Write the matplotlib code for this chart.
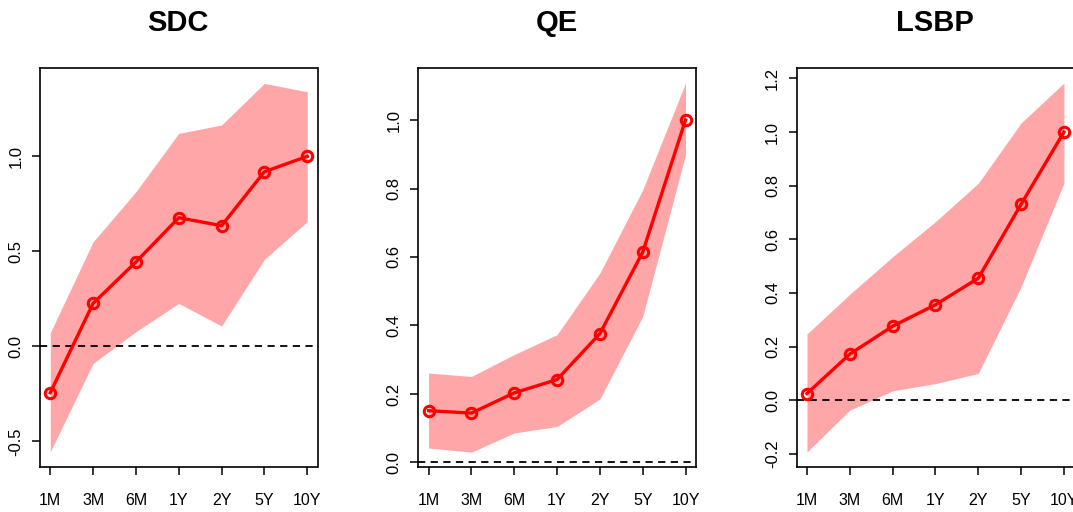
import numpy as np
import matplotlib
matplotlib.use('Agg')
import matplotlib.pyplot as plt

plt.rcParams['font.family'] = ['Liberation Sans', 'DejaVu Sans']

maturities = ['1M', '3M', '6M', '1Y', '2Y', '5Y', '10Y']
titles = ['SDC', 'QE', 'LSBP']

sdc_mid = [-0.244, 0.226, 0.444, 0.677, 0.635, 0.919, 1.0]
sdc_hi = [0.072, 0.55, 0.814, 1.121, 1.165, 1.384, 1.34]
sdc_lo = [-0.555, -0.09, 0.077, 0.226, 0.107, 0.458, 0.656]

qe_mid = [0.151, 0.144, 0.203, 0.242, 0.376, 0.614, 1.0]
qe_hi = [0.261, 0.251, 0.315, 0.373, 0.553, 0.796, 1.108]
qe_lo = [0.042, 0.030, 0.086, 0.105, 0.185, 0.426, 0.899]

lsbp_mid = [0.025, 0.172, 0.276, 0.356, 0.455, 0.731, 1.0]
lsbp_hi = [0.247, 0.395, 0.535, 0.666, 0.809, 1.034, 1.183]
lsbp_lo = [-0.193, -0.037, 0.035, 0.062, 0.100, 0.423, 0.809]

yticks = [[-0.5, 0.0, 0.5, 1.0],
          [0.0, 0.2, 0.4, 0.6, 0.8, 1.0],
          [-0.2, 0.0, 0.2, 0.4, 0.6, 0.8, 1.0, 1.2]]
ylims = [(-0.635, 1.465), (-0.0134, 1.152), (-0.249, 1.239)]
lefts = [40, 418.3, 796.7]
titles_x = [178, 557, 935]

W, H = 1073, 512
fig = plt.figure(figsize=(W / 100, H / 100), dpi=100)

data = [(sdc_mid, sdc_lo, sdc_hi), (qe_mid, qe_lo, qe_hi), (lsbp_mid, lsbp_lo, lsbp_hi)]
x = np.arange(1, len(maturities) + 1)

for i, (mid, lo, hi) in enumerate(data):
    ax = fig.add_axes([lefts[i] / W, 1 - 467 / H, 277.5 / W, 399 / H])
    ax.fill_between(x, lo, hi, color='#ffa6a9', lw=0)
    ax.axhline(0, color='black', ls=(0, (4, 3)), lw=1.3)
    ax.plot(x, mid, color='red', lw=2.4, marker='o', ms=7.5, mfc='none',
            mec='red', mew=2.2)
    ax.set_xlim(1 - 0.24, 7 + 0.24)
    ax.set_ylim(*ylims[i])
    ax.set_xticks(x)
    ax.set_xticklabels(maturities, fontsize=11.5)
    ax.set_yticks(yticks[i])
    ax.set_yticklabels([f'{v:.1f}' for v in yticks[i]], fontsize=12,
                       rotation=90, va='center')
    ax.tick_params(axis='x', length=6, width=1.1, pad=13)
    ax.tick_params(axis='y', length=6, width=1.1, pad=6)
    for s in ax.spines.values():
        s.set_linewidth(1.2)
    fig.text(titles_x[i] / W, 1 - 23 / H, titles[i], fontsize=21,
             fontweight='bold', ha='center', va='center')

fig.savefig('out.png', dpi=100)
